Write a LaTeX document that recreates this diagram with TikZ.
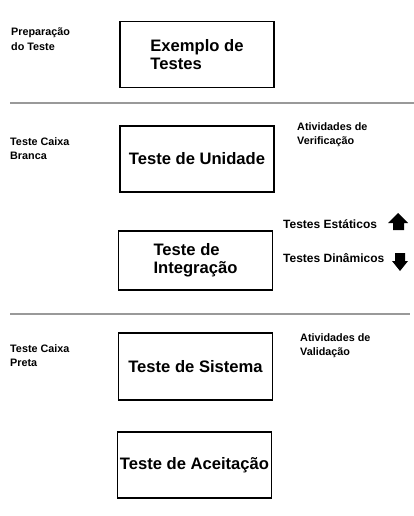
\documentclass[tikz,border=0pt]{standalone}
\usepackage{fontspec}
\setmainfont{Liberation Sans}
\usepackage{tikz}
\usetikzlibrary{positioning}

\tikzset{
    stage/.style={draw, line width=1.8pt, minimum width=154pt, minimum height=66pt,
        inner sep=0pt, align=center, font=\fontsize{16.6}{18}\selectfont\bfseries},
    side/.style={anchor=north west, align=left, inner sep=0pt,
        font=\fontsize{10.8}{14.5}\selectfont\bfseries},
    kind/.style={anchor=west, inner sep=0pt, font=\fontsize{12}{14}\selectfont\bfseries},
    sep/.style={gray!80, line width=1.3pt}
}

\begin{document}
\begin{tikzpicture}[x=1pt, y=-1pt]
    \useasboundingbox (0,0) rectangle (414,516);

    % etapas
    \node[stage, align=left] (exemplo) at (197,54.5) {Exemplo de\\Testes};
    \node[stage] (unidade) at (197,159) {Teste de Unidade};
    \node[stage, align=left, minimum height=59pt] (integracao) at (195.5,260.5) {Teste de\\Integra\c{c}\~ao};
    \node[stage, minimum height=67pt] (sistema) at (195.5,366.5) {Teste de Sistema};
    \node[stage] (aceitacao) at (194.5,465) {Teste de Acei\-ta\c{c}\~ao};

    % rotulos
    \node[side] (prep) at (11,28) {Prepara\c{c}\~ao\\do Teste};
    \node[side] (branca) at (10,137) {Teste Caixa\\Branca};
    \node[side] (preta) at (10,344) {Teste Caixa\\Preta};
    \node[side] (verif) at (297,122) {Atividades de\\Verifica\c{c}\~ao};
    \node[side] (valid) at (300,333) {Atividades de\\Valida\c{c}\~ao};
    \node[kind] (estaticos) at (283,224) {Testes Est\'aticos};
    \node[kind] (dinamicos) at (283,258) {Testes Din\^amicos};

    % separadores
    \draw[sep] (10,103) -- (414,103);
    \draw[sep] (10,314) -- (410,314);

    % setas
    \fill (398,213) -- (408,223) -- (404,223) -- (404,230) -- (393,230) -- (393,223) -- (388,223) -- cycle;
    \fill (400,271) -- (408,261) -- (405,261) -- (405,253) -- (395,253) -- (395,261) -- (392,261) -- cycle;
\end{tikzpicture}
\end{document}
